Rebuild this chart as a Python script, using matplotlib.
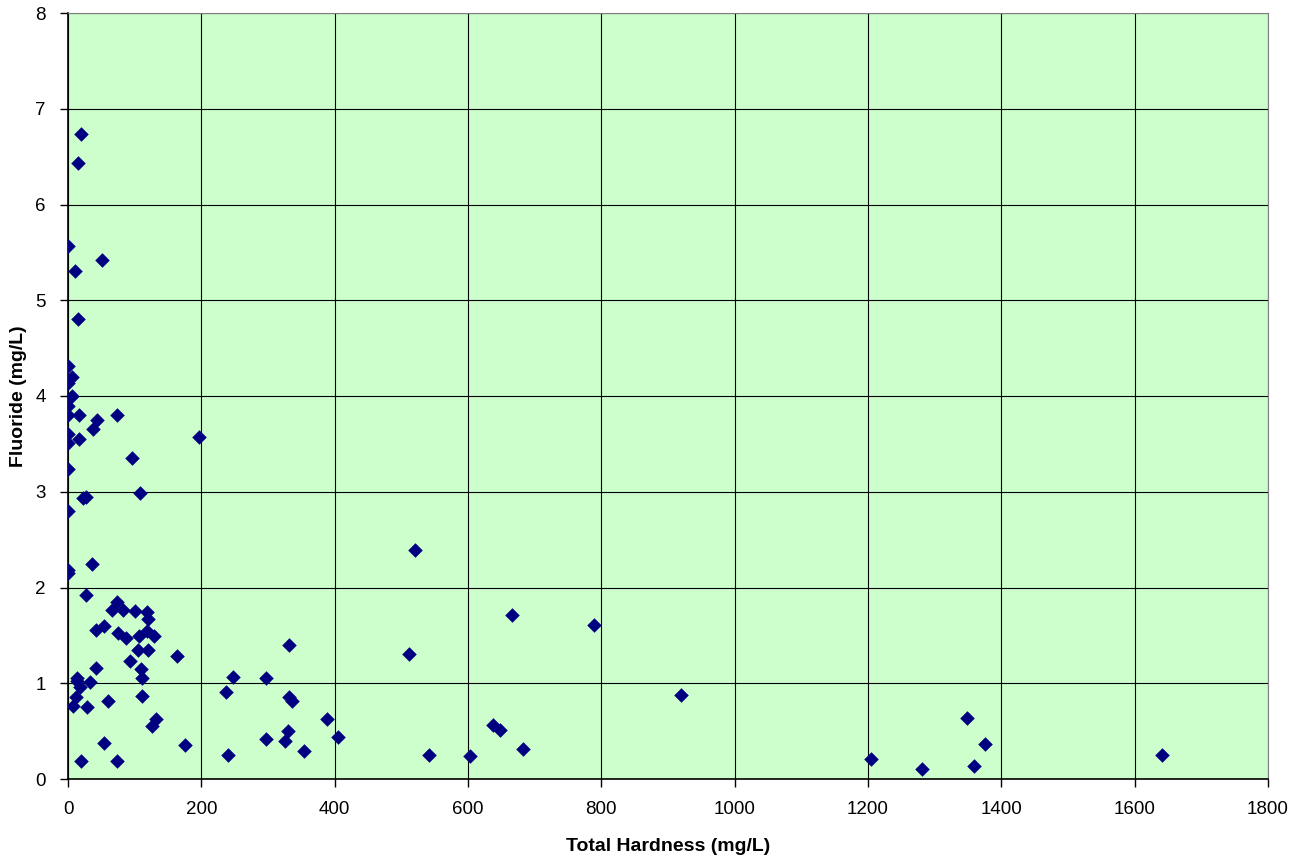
import matplotlib.pyplot as plt

# Total hardness (mg/L) vs fluoride (mg/L)
hardness = [19.5, 15, 0.5, 50.5, 10.5, 15, 0.5, 5.5, 0.5, 5.5, 0.5, 0.5, 17, 43, 38, 74,
            0.5, 17, 197, 0.5, 96.5, 0.5, 108, 23, 27, 0.5, 35.5, 0.5, 0.5, 27,
            73, 65.5, 83, 100.5, 118, 120.5, 42, 54.5, 75.5, 87, 107, 118, 129.5,
            105.5, 119.5, 163, 93, 41.5, 109.5, 110.5, 14, 13, 18, 33, 248, 236.5,
            12, 110.5, 60.5, 8, 28, 132, 125.5, 54.5, 175.5, 19.5, 74, 239.5,
            520.5, 666.5, 789, 332, 511.5, 296.5, 332, 336.5, 389, 330.5, 325.5,
            297.5, 405, 354.5, 542, 603, 638, 648, 683,
            919.5, 1204.5, 1281, 1348.5, 1359, 1375.5, 1641]
fluoride = [6.74, 6.43, 5.57, 5.42, 5.31, 4.80, 4.31, 4.20, 4.14, 4.00, 3.90, 3.80, 3.80, 3.75, 3.66, 3.80,
            3.60, 3.55, 3.57, 3.51, 3.35, 3.24, 2.99, 2.93, 2.95, 2.80, 2.25, 2.18, 2.15, 1.92,
            1.85, 1.76, 1.77, 1.75, 1.74, 1.67, 1.56, 1.60, 1.53, 1.47, 1.49, 1.55, 1.49,
            1.35, 1.35, 1.28, 1.23, 1.16, 1.15, 1.05, 1.05, 1.02, 0.96, 1.01, 1.07, 0.91,
            0.86, 0.87, 0.81, 0.76, 0.75, 0.63, 0.55, 0.38, 0.36, 0.19, 0.19, 0.25,
            2.39, 1.71, 1.61, 1.40, 1.31, 1.06, 0.86, 0.81, 0.63, 0.50, 0.40,
            0.42, 0.44, 0.29, 0.25, 0.24, 0.56, 0.51, 0.31,
            0.877, 0.21, 0.10, 0.64, 0.14, 0.37, 0.25]

plt.rcParams['font.family'] = ['Liberation Sans', 'DejaVu Sans']

fig = plt.figure(figsize=(13.06, 8.60), dpi=100)
ax = fig.add_axes([68/1306, 1 - 779/860, 1200/1306, 766/860])
ax.set_facecolor('#CCFFCC')

ax.scatter(hardness, fluoride, marker='D', s=55, color='#000080', zorder=3, linewidths=0)

ax.set_xlim(0, 1800)
ax.set_ylim(0, 8)
ax.set_xticks(range(0, 1801, 200))
ax.set_yticks(range(0, 9))
ax.grid(True, color='black', linewidth=0.8)
ax.set_axisbelow(True)

for side in ['top', 'right']:
    ax.spines[side].set_color('#808080')
for side in ['left', 'bottom']:
    ax.spines[side].set_linewidth(1.2)

ax.tick_params(direction='out', length=6, width=1, labelsize=13.5, pad=10)

ax.set_xlabel('Total Hardness (mg/L)', fontsize=14, fontweight='bold', labelpad=14)
ax.set_ylabel('Fluoride (mg/L)', fontsize=14, fontweight='bold', labelpad=6)

fig.savefig('out.png', dpi=100)
